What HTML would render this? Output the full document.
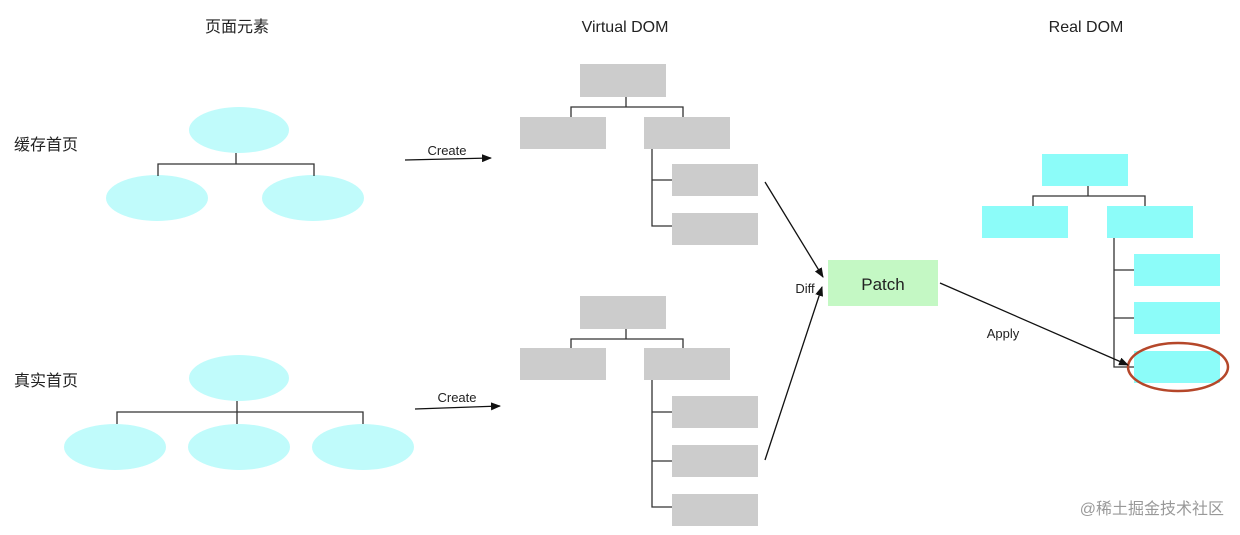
<!DOCTYPE html>
<html><head><meta charset="utf-8"><style>
html,body{margin:0;padding:0;background:#fff;}
svg{display:block;}
text{font-family:"Liberation Sans","Noto Sans CJK SC",sans-serif;fill:#222;}
</style></head><body>
<svg width="1240" height="535" viewBox="0 0 1240 535" xmlns="http://www.w3.org/2000/svg">
<defs><marker id="a" markerWidth="10" markerHeight="8" refX="9" refY="4" orient="auto" markerUnits="userSpaceOnUse"><path d="M0,0 L10,4 L0,8 Z" fill="#111"/></marker></defs>
<g font-size="16" text-anchor="middle">
<text x="237" y="32">页面元素</text>
<text x="625" y="32">Virtual DOM</text>
<text x="1086" y="32">Real DOM</text>
</g>
<text x="14" y="150" font-size="16">缓存首页</text>
<text x="14" y="386" font-size="16">真实首页</text>
<!-- left trees -->
<g fill="#c0fbfb">
<ellipse cx="239" cy="130" rx="50" ry="23"/>
<ellipse cx="157" cy="198" rx="51" ry="23"/>
<ellipse cx="313" cy="198" rx="51" ry="23"/>
<ellipse cx="239" cy="378" rx="50" ry="23"/>
<ellipse cx="115" cy="447" rx="51" ry="23"/>
<ellipse cx="239" cy="447" rx="51" ry="23"/>
<ellipse cx="363" cy="447" rx="51" ry="23"/>
</g>
<g stroke="#333" stroke-width="1.3" fill="none">
<path d="M236 153V164M158 176V164H314V176"/>
<path d="M237 401V424M117 424V412H363V424"/>
</g>
<!-- VDOM trees -->
<g fill="#cccccc">
<rect x="580" y="64" width="86" height="33"/>
<rect x="520" y="117" width="86" height="32"/>
<rect x="644" y="117" width="86" height="32"/>
<rect x="672" y="164" width="86" height="32"/>
<rect x="672" y="213" width="86" height="32"/>
<rect x="580" y="296" width="86" height="33"/>
<rect x="520" y="348" width="86" height="32"/>
<rect x="644" y="348" width="86" height="32"/>
<rect x="672" y="396" width="86" height="32"/>
<rect x="672" y="445" width="86" height="32"/>
<rect x="672" y="494" width="86" height="32"/>
</g>
<g stroke="#333" stroke-width="1.3" fill="none">
<path d="M626 97V107M571 117V107H683V117M652 149V226H672M652 180H672"/>
<path d="M626 329V339M571 348V339H683V348M652 380V507H672M652 412H672M652 461H672"/>
</g>
<!-- Real DOM -->
<g fill="#8cfcf9">
<rect x="1042" y="154" width="86" height="32"/>
<rect x="982" y="206" width="86" height="32"/>
<rect x="1107" y="206" width="86" height="32"/>
<rect x="1134" y="254" width="86" height="32"/>
<rect x="1134" y="302" width="86" height="32"/>
<rect x="1134" y="351" width="86" height="32"/>
</g>
<g stroke="#333" stroke-width="1.3" fill="none">
<path d="M1088 186V196M1033 206V196H1145V206M1114 238V367H1134M1114 270H1134M1114 318H1134"/>
</g>
<ellipse cx="1178" cy="367" rx="50" ry="24" fill="none" stroke="#b5472a" stroke-width="2.5"/>
<!-- Patch -->
<rect x="828" y="260" width="110" height="46" fill="#c4f8c4"/>
<text x="883" y="290" font-size="17" text-anchor="middle">Patch</text>
<!-- arrows -->
<g stroke="#111" stroke-width="1.3" fill="none" marker-end="url(#a)">
<path d="M405 160L491 158"/>
<path d="M415 409L500 406"/>
<path d="M765 182L823 277"/>
<path d="M765 460L822 287"/>
<path d="M940 283L1128 365"/>
</g>
<g font-size="13" text-anchor="middle">
<text x="447" y="155">Create</text>
<text x="457" y="402">Create</text>
<text x="805" y="293">Diff</text>
<text x="1003" y="338">Apply</text>
</g>
<text x="1224" y="514" font-size="16" text-anchor="end" style="fill:#999">@稀土掘金技术社区</text>
</svg>
</body></html>
